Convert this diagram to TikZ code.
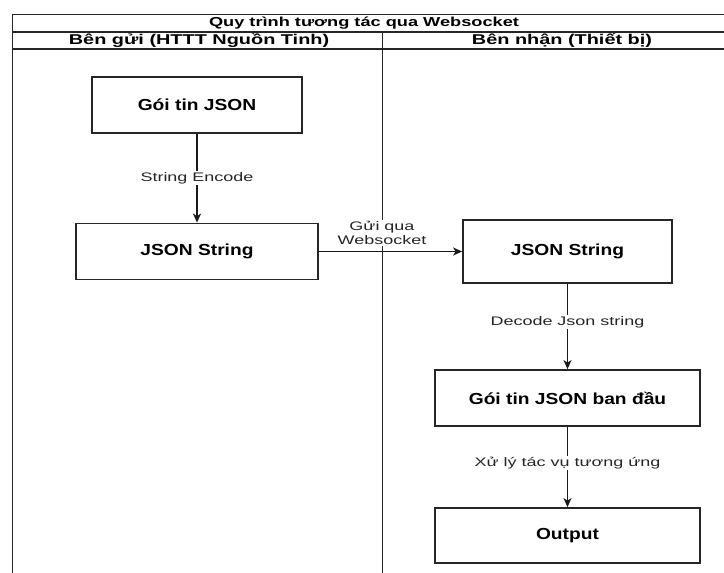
\documentclass[tikz,border=0pt]{standalone}
\usepackage{fontspec}
\setmainfont{Liberation Sans}
\newfontfamily\boxfont{Liberation Sans}[FakeStretch=1.2]
\newfontfamily\hdrfont{Liberation Sans}[FakeStretch=1.4]
\newfontfamily\lblfont{Liberation Sans}[FakeStretch=1.45]
\usetikzlibrary{arrows.meta}
\begin{document}
\begin{tikzpicture}[x=1pt,y=-1pt,
  frame/.style={draw=black!85, line width=1.8pt},
  stepbox/.style={draw=black!85, line width=1.8pt, minimum height=56pt, font=\boxfont\bfseries\fontsize{16}{19}\selectfont, inner sep=0pt},
  ttl/.style={font=\hdrfont\bfseries\fontsize{13}{15}\selectfont, inner sep=0pt},
  hdr/.style={font=\hdrfont\bfseries\fontsize{14.2}{16}\selectfont, inner sep=0pt},
  elabel/.style={font=\lblfont\fontsize{12.4}{14}\selectfont, fill=white, inner sep=1pt, text=black!85},
  conn/.style={draw=black!90, line width=1.6pt, -{Stealth[length=9pt,width=8pt,inset=2.5pt]}}
]
\useasboundingbox (0,0) rectangle (724,573);
\fill[white] (0,0) rectangle (724,573);
% pool frame
\draw[frame] (12.5,600) -- (12.5,14.5) -- (730,14.5);
\draw[frame] (12.5,32) -- (730,32);
\draw[frame] (12.5,49) -- (730,49);
\draw[frame] (382.5,32) -- (382.5,600);
\node[ttl] (title) at (364,23.5) {Quy trình tương tác qua Websocket};
\node[hdr] (lane1) at (199,40.5) {Bên gửi (HTTT Nguồn Tinh)};
\node[hdr] (lane2) at (562,40.5) {Bên nhận (Thiết bị)};
% boxes
\node[stepbox, minimum width=210pt] (b1) at (197,105) {Gói tin JSON};
\node[stepbox, minimum width=242pt] (b2) at (197,251.5) {JSON String};
\node[stepbox, minimum width=209pt, minimum height=63pt] (b3) at (567.5,251.5) {JSON String};
\node[stepbox, minimum width=265pt] (b4) at (567.5,398) {Gói tin JSON ban đầu};
\node[stepbox, minimum width=265pt, minimum height=55pt] (b5) at (567.5,535.5) {Output};
% connectors
\draw[conn] (b1) -- node[elabel, pos=0.5] {String Encode} (b2);
\draw[conn] (b2) -- (b3);
\node[elabel, align=center, inner sep=1pt] (gl) at (382,233) {Gửi qua\\Websocket};
\draw[conn] (b3) -- node[elabel, pos=0.45] {Decode Json string} (b4);
\draw[conn] (b4) -- node[elabel, pos=0.45] {Xử lý tác vụ tương ứng} (b5);
\end{tikzpicture}
\end{document}
